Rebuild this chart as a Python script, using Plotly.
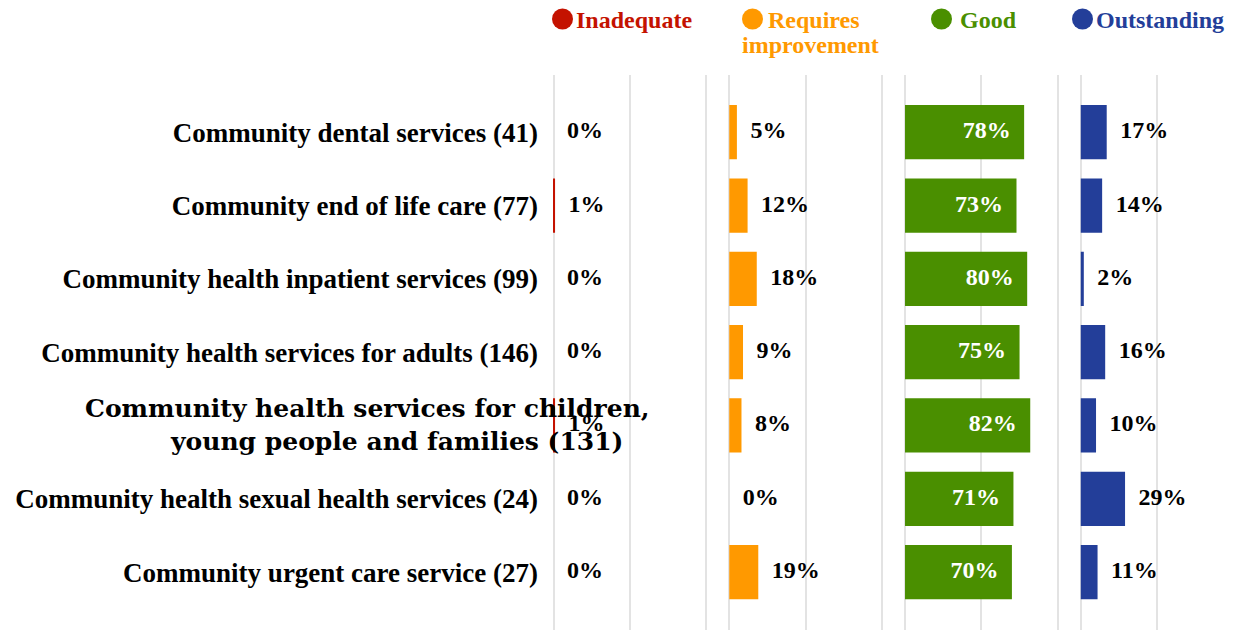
import plotly.graph_objs as go
from plotly.subplots import make_subplots

# Services (number of locations rated)
categories = [
    "Community dental services (41)",
    "Community end of life care (77)",
    "Community health inpatient services (99)",
    "Community health services for adults (146)",
    "Community health services for children, young people and families (131)",
    "Community health sexual health services (24)",
    "Community urgent care service (27)",
]

ratings = ["Inadequate", "Requires improvement", "Good", "Outstanding"]

# Percentage of ratings per service
inadequate = [0, 1, 0, 0, 1, 0, 0]
requires_improvement = [5, 12, 18, 9, 8, 0, 19]
good = [78, 73, 80, 75, 82, 71, 70]
outstanding = [17, 14, 2, 16, 10, 29, 11]

colors = ["#C41200", "#FF9900", "#4A8F00", "#233E99"]
legend_lines = [["Inadequate"], ["Requires", "improvement"], ["Good"], ["Outstanding"]]

SERIF = "Liberation Serif"
LONG_LABEL = 4  # this one wraps and is drawn separately

# figure pixels: plot area starts at L, top at T, PW wide
L, T, PW = 543.5, 67, 684
circle_x = [554, 744, 933, 1074]      # legend dot centres
text_x = [567, 759, 951, 1087]        # legend text starts
wrap_x = [None, 733, None, None]      # second line of the wrapped legend label
LEG_Y = 12                            # legend first line centre

fig = make_subplots(rows=1, cols=4, shared_yaxes=True, horizontal_spacing=20 / PW)

series = [inadequate, requires_improvement, good, outstanding]
for i, vals in enumerate(series):
    col = i + 1
    fig.add_trace(go.Bar(
        x=vals,
        y=categories,
        orientation="h",
        marker=dict(color=colors[i], line=dict(width=0)),
        width=0.74,
        hoverinfo="skip",
    ), row=1, col=col)

    # value labels: inside (white) for Good, outside (black) for the rest
    inside = ratings[i] == "Good"
    fig.add_trace(go.Scatter(
        x=vals,
        y=categories,
        mode="markers+text",
        marker=dict(size=20, color="rgba(0,0,0,0)"),
        text=[f"{v}%" for v in vals],
        textposition="middle left" if inside else "middle right",
        textfont=dict(family=SERIF, size=24, weight="bold",
                      color="white" if inside else "black"),
        cliponaxis=False,
        hoverinfo="skip",
    ), row=1, col=col)

    # a little padding so the 0% and 100% gridlines are drawn too
    fig.update_xaxes(
        range=[-1, 101],
        tickvals=[0, 50, 100],
        showticklabels=False,
        showgrid=True,
        gridcolor="#e3e3e3",
        gridwidth=2,
        zeroline=False,
        showline=False,
        row=1, col=col,
    )

    # rating heading above each panel: dot + coloured text
    fig.add_shape(
        type="circle", xref="paper", yref="paper",
        xsizemode="pixel", ysizemode="pixel",
        xanchor=0, yanchor=1,
        x0=circle_x[i] - L - 10.5, x1=circle_x[i] - L + 10.5,
        y0=T - LEG_Y + 1 - 10.5, y1=T - LEG_Y + 1 + 10.5,
        fillcolor=colors[i], line=dict(width=0),
    )
    for k, line in enumerate(legend_lines[i]):
        x0 = text_x[i] if k == 0 else wrap_x[i]
        fig.add_annotation(
            xref="paper", yref="paper",
            x=0, y=1,
            xshift=x0 - L - 2, yshift=T - LEG_Y - 25 * k,
            xanchor="left", yanchor="middle",
            text=line,
            showarrow=False,
            font=dict(family=SERIF, size=24, weight="bold", color=colors[i]),
        )

tick_text = ["" if k == LONG_LABEL else c for k, c in enumerate(categories)]

fig.update_yaxes(
    categoryorder="array",
    categoryarray=categories,
    range=[6.79, -0.78],
    showgrid=False,
    zeroline=False,
    showline=False,
)
fig.update_yaxes(
    tickvals=categories,
    ticktext=tick_text,
    tickfont=dict(family=SERIF, size=27, weight="bold", color="black"),
    ticklabelstandoff=13,
    row=1, col=1,
)

# the long label is wrapped and spills into the first panel
fig.add_annotation(
    xref="paper", yref="y",
    x=0, xshift=643 - L, y=categories[LONG_LABEL],
    xanchor="right", yanchor="middle",
    align="right",
    text=categories[LONG_LABEL].replace(", ", ",<br>") + "&nbsp;&nbsp;&nbsp;",
    showarrow=False,
    font=dict(family="DejaVu Serif", size=25, weight="bold", color="black"),
)

fig.update_layout(
    width=1235,
    height=630,
    margin=dict(l=L, r=1235 - L - PW, t=T, b=8),
    plot_bgcolor="white",
    paper_bgcolor="white",
    showlegend=False,
    bargap=0.26,
)

fig.write_html("out.html")
